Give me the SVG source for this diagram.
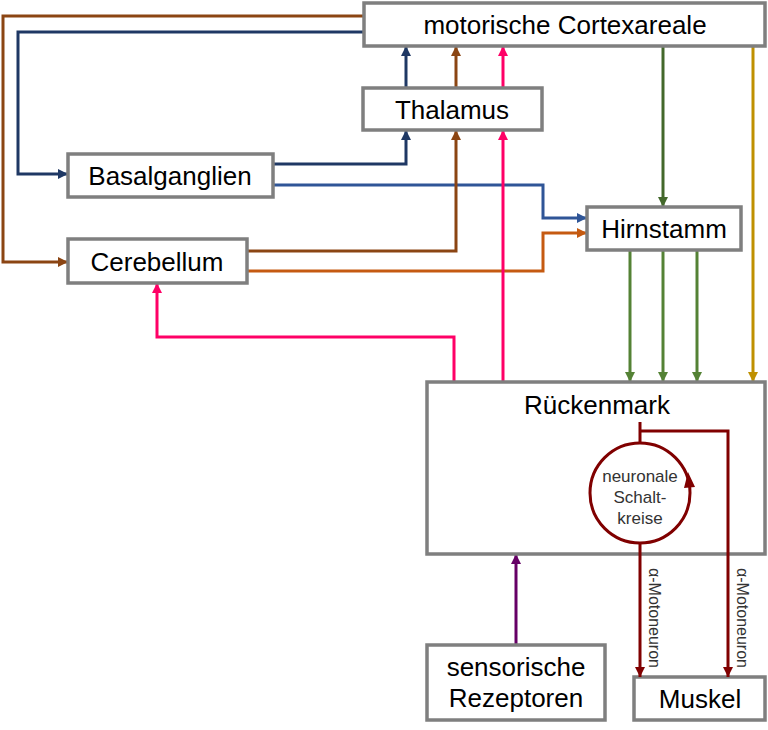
<svg xmlns="http://www.w3.org/2000/svg" width="768" height="730" viewBox="0 0 768 730">
<style>
.box{fill:#fff;stroke:#7f7f7f;stroke-width:3.5}
.t{font-family:"Liberation Sans",Arial,sans-serif;font-size:26px;fill:#000;text-anchor:middle}
.s{font-family:"Liberation Sans",Arial,sans-serif;font-size:17px;fill:#333;text-anchor:middle}
.l{font-family:"Liberation Sans",Arial,sans-serif;font-size:16px;fill:#333;text-anchor:middle}
.c{fill:none;stroke-width:3}
</style>
<defs>
<marker id="aBr" markerUnits="userSpaceOnUse" markerWidth="10" markerHeight="10" refX="10" refY="5" orient="auto"><path d="M0,0L10,5L0,10z" fill="#8b4513"/></marker>
<marker id="aDb" markerUnits="userSpaceOnUse" markerWidth="10" markerHeight="10" refX="10" refY="5" orient="auto"><path d="M0,0L10,5L0,10z" fill="#1f3864"/></marker>
<marker id="aMb" markerUnits="userSpaceOnUse" markerWidth="10" markerHeight="10" refX="10" refY="5" orient="auto"><path d="M0,0L10,5L0,10z" fill="#2f5597"/></marker>
<marker id="aOr" markerUnits="userSpaceOnUse" markerWidth="10" markerHeight="10" refX="10" refY="5" orient="auto"><path d="M0,0L10,5L0,10z" fill="#c55a11"/></marker>
<marker id="aPk" markerUnits="userSpaceOnUse" markerWidth="10" markerHeight="10" refX="10" refY="5" orient="auto"><path d="M0,0L10,5L0,10z" fill="#ff0066"/></marker>
<marker id="aDg" markerUnits="userSpaceOnUse" markerWidth="10" markerHeight="10" refX="10" refY="5" orient="auto"><path d="M0,0L10,5L0,10z" fill="#43682b"/></marker>
<marker id="aGr" markerUnits="userSpaceOnUse" markerWidth="10" markerHeight="10" refX="10" refY="5" orient="auto"><path d="M0,0L10,5L0,10z" fill="#548235"/></marker>
<marker id="aGo" markerUnits="userSpaceOnUse" markerWidth="10" markerHeight="10" refX="10" refY="5" orient="auto"><path d="M0,0L10,5L0,10z" fill="#bf9000"/></marker>
<marker id="aRd" markerUnits="userSpaceOnUse" markerWidth="10" markerHeight="10" refX="10" refY="5" orient="auto"><path d="M0,0L10,5L0,10z" fill="#800000"/></marker>
<marker id="aPu" markerUnits="userSpaceOnUse" markerWidth="10" markerHeight="10" refX="10" refY="5" orient="auto"><path d="M0,0L10,5L0,10z" fill="#660066"/></marker>
</defs>

<g id="connectors">
<path class="c" stroke="#8b4513" d="M364,16H3V262H68" marker-end="url(#aBr)"/>
<path class="c" stroke="#1f3864" d="M364,32H18V174H68" marker-end="url(#aDb)"/>
<path class="c" stroke="#1f3864" d="M273,164H406V130" marker-end="url(#aDb)"/>
<path class="c" stroke="#1f3864" d="M406,88V46" marker-end="url(#aDb)"/>
<path class="c" stroke="#8b4513" d="M456,88V46" marker-end="url(#aBr)"/>
<path class="c" stroke="#ff0066" d="M503,88V46" marker-end="url(#aPk)"/>
<path class="c" stroke="#2f5597" d="M273,185H543V218H587" marker-end="url(#aMb)"/>
<path class="c" stroke="#8b4513" d="M247,251H456V130" marker-end="url(#aBr)"/>
<path class="c" stroke="#c55a11" d="M247,271H543V233H587" marker-end="url(#aOr)"/>
<path class="c" stroke="#ff0066" d="M503,382V130" marker-end="url(#aPk)"/>
<path class="c" stroke="#ff0066" d="M454,382V337H157V283" marker-end="url(#aPk)"/>
<path class="c" stroke="#43682b" d="M663,46V207" marker-end="url(#aDg)"/>
<path class="c" stroke="#bf9000" d="M753,46V382" marker-end="url(#aGo)"/>
<path class="c" stroke="#548235" d="M630,250V382" marker-end="url(#aGr)"/>
<path class="c" stroke="#548235" d="M663,250V382" marker-end="url(#aGr)"/>
<path class="c" stroke="#548235" d="M697,250V382" marker-end="url(#aGr)"/>
<path class="c" stroke="#660066" d="M516,645V554" marker-end="url(#aPu)"/>
</g>

<g id="cortex"><rect class="box" x="364" y="3" width="401" height="43"/><text class="t" x="565" y="34">motorische Cortexareale</text></g>
<g id="thalamus"><rect class="box" x="363" y="88" width="179" height="42"/><text class="t" x="452" y="119">Thalamus</text></g>
<g id="basalganglien"><rect class="box" x="68" y="154" width="205" height="43"/><text class="t" x="170" y="185">Basalganglien</text></g>
<g id="cerebellum"><rect class="box" x="68" y="239" width="179" height="44"/><text class="t" x="157" y="271">Cerebellum</text></g>
<g id="hirnstamm"><rect class="box" x="587" y="207" width="154" height="43"/><text class="t" x="664" y="238">Hirnstamm</text></g>
<g id="rueckenmark"><rect class="box" x="427" y="382" width="338" height="172"/><text class="t" x="597" y="414">Rückenmark</text></g>
<g id="rezeptoren"><rect class="box" x="427" y="645" width="178" height="75"/><text class="t" x="516" y="676">sensorische</text><text class="t" x="516" y="707">Rezeptoren</text></g>
<g id="muskel"><rect class="box" x="634" y="677" width="131" height="43"/><text class="t" x="700" y="708">Muskel</text></g>

<g id="schaltkreise">
<circle cx="640" cy="493" r="50" fill="none" stroke="#800000" stroke-width="3"/>
<polygon points="688,472 684,488 695,487" fill="#800000"/>
<text class="s" x="640" y="482">neuronale</text>
<text class="s" x="640" y="503">Schalt-</text>
<text class="s" x="640" y="524">kreise</text>
</g>

<g id="motor-connectors">
<path class="c" stroke="#800000" d="M640,443V422"/>
<path class="c" stroke="#800000" d="M640,431H728V677" marker-end="url(#aRd)"/>
<path class="c" stroke="#800000" d="M640,543V677" marker-end="url(#aRd)"/>
<text class="l" transform="translate(649,618) rotate(90)">α-Motoneuron</text>
<text class="l" transform="translate(737,618) rotate(90)">α-Motoneuron</text>
</g>
</svg>
